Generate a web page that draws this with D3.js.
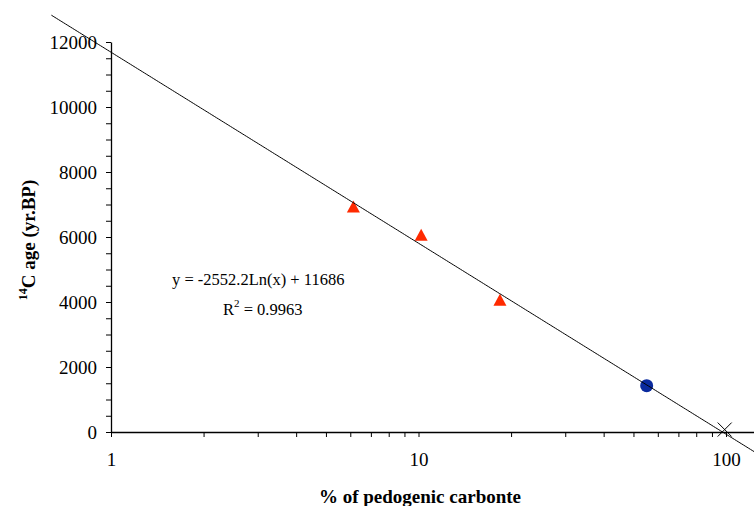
<!DOCTYPE html>
<html><head><meta charset="utf-8">
<script src="https://cdn.jsdelivr.net/npm/d3@7"></script>
<style>body{margin:0;background:#fff} svg{display:block} text{font-family:"Liberation Serif","Times New Roman",serif;fill:#000}</style>
</head><body><svg id="c" width="754" height="506"></svg>
<script>
// ---- data ----
const triX = [6.14, 10.2, 18.4];
const triY = [6940, 6070, 4070];
const blueX = [55.2];
const blueY = [1425];
const crossX = [99];
const crossY = [75];
const trendCoef = [-2552.2, 11686];      // y = a*ln(x) + b
const trendRange = [0.64, 123.3];
const xTickValues = [1,2,3,4,5,6,7,8,9,10,20,30,40,50,60,70,80,90,100];
const xTickLabels = [1, 10, 100];
const yTickValues = d3.range(0, 12001, 500);
const yTickLabels = [0, 2000, 4000, 6000, 8000, 10000, 12000];
const eqText = "y = -2552.2Ln(x) + 11686";
const r2Value = "0.9963";
const xTitle = "% of pedogenic carbonte";

// ---- layout ----
const svg = d3.select("#c");
const x = d3.scaleLog().domain([1, 123.3]).range([111, 754]);
const y = d3.scaleLinear().domain([0, 12000]).range([432, 42]);

// axes
const xAxis = d3.axisBottom(x).tickValues(xTickValues)
  .tickFormat(d => xTickLabels.includes(d) ? d : "")
  .tickSize(5).tickSizeOuter(0).tickPadding(16);
const gx = svg.append("g").attr("transform", "translate(0,432)").call(xAxis);
gx.select(".domain").attr("stroke-width", 1.3);
gx.selectAll("text").attr("font-size", 19).style("font-family", '"Liberation Serif",serif');

const yAxis = d3.axisLeft(y).tickValues(yTickValues)
  .tickFormat(d => yTickLabels.includes(d) ? d : "")
  .tickSize(5).tickSizeOuter(0).tickPadding(9);
const gy = svg.append("g").attr("transform", "translate(111,0)").call(yAxis);
gy.select(".domain").attr("stroke-width", 1.3);
gy.selectAll("text").attr("font-size", 19).style("font-family", '"Liberation Serif",serif');

// markers: triangles
svg.selectAll("path.tri").data(triX.map((v, i) => [v, triY[i]])).join("path")
  .attr("class", "tri")
  .attr("d", d => {
    const cx = x(d[0]), cy = y(d[1]);
    return `M${cx},${cy - 6}L${cx + 6.5},${cy + 6}L${cx - 6.5},${cy + 6}Z`;
  })
  .attr("fill", "#ff2a00");

// blue marker
svg.selectAll("circle.blue").data(blueX.map((v, i) => [v, blueY[i]])).join("circle")
  .attr("class", "blue")
  .attr("cx", d => x(d[0])).attr("cy", d => y(d[1])).attr("r", 6.5)
  .attr("fill", "#0a2a9e");

// cross marker
const cg = svg.selectAll("g.cross").data(crossX.map((v, i) => [v, crossY[i]])).join("g")
  .attr("class", "cross")
  .attr("transform", d => `translate(${x(d[0])},${y(d[1])})`);
cg.append("line").attr("x1", -7).attr("y1", -7).attr("x2", 7).attr("y2", 7).attr("stroke", "#000");
cg.append("line").attr("x1", -7).attr("y1", 7).attr("x2", 7).attr("y2", -7).attr("stroke", "#000");

// trendline (drawn on top; extends beyond plot like Excel backward forecast)
const tPts = d3.range(0, 401).map(i => {
  const lx = Math.log(trendRange[0]) + (Math.log(trendRange[1]) - Math.log(trendRange[0])) * i / 400;
  const xv = Math.exp(lx);
  return [xv, trendCoef[0] * Math.log(xv) + trendCoef[1]];
});
svg.append("path")
  .attr("d", d3.line().x(d => x(d[0])).y(d => y(d[1]))(tPts))
  .attr("fill", "none").attr("stroke", "#000").attr("stroke-width", 1);

// equation
svg.append("text").attr("x", 172).attr("y", 285).attr("font-size", 16.5).text(eqText);
const r2 = svg.append("text").attr("x", 223).attr("y", 315).attr("font-size", 16.5);
r2.append("tspan").text("R");
r2.append("tspan").attr("font-size", 11).attr("dy", -8).text("2");
r2.append("tspan").attr("dy", 8).text(" = " + r2Value);

// x title
svg.append("text").attr("x", 420).attr("y", 503).attr("text-anchor", "middle")
  .attr("font-size", 19).attr("font-weight", "bold").text(xTitle);

// y title
const yt = svg.append("text").attr("transform", "translate(35,240) rotate(-90)")
  .attr("text-anchor", "middle").attr("font-size", 19).attr("font-weight", "bold");
yt.append("tspan").attr("font-size", 12).attr("dy", -8).text("14");
yt.append("tspan").attr("dy", 8).text("C age (yr.BP)");
</script></body></html>
